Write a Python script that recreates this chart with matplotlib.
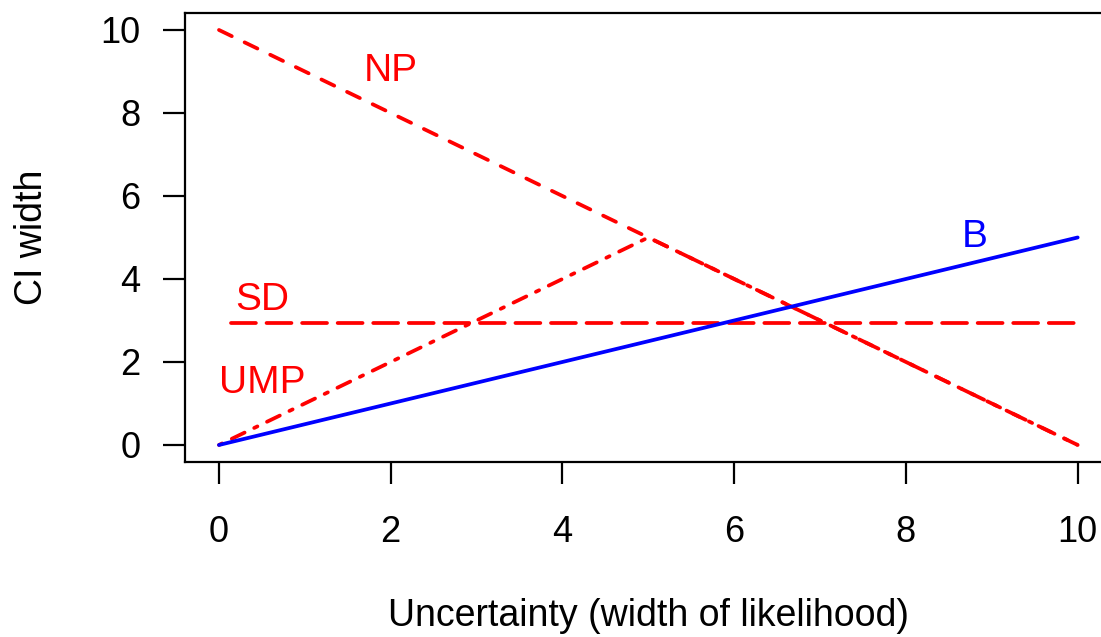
import matplotlib
matplotlib.use("Agg")
import matplotlib.pyplot as plt

plt.rcParams['font.family'] = ['Liberation Sans', 'DejaVu Sans']
plt.rcParams['lines.scale_dashes'] = False

# interval widths against likelihood width
unc = [0, 10]
np_width = [10, 0]
ump_x = [0, 5, 10]
ump_width = [0, 5, 0]
sd_x = [0.14, 10]
sd_width = [2.94, 2.94]
b_width = [0, 5]

xticks = [0, 2, 4, 6, 8, 10]
yticks = [0, 2, 4, 6, 8, 10]

labels = [("NP", 2.0, 9.0, 'red'), ("UMP", 0.5, 1.5, 'red'),
          ("SD", 0.5, 3.5, 'red'), ("B", 8.8, 5.0, 'blue')]

fig = plt.figure(figsize=(11.01, 6.37), dpi=100)
ax = fig.add_axes([0.1677, 0.2754, 0.8423, 0.7036])

u = 2.56  # R lty unit in points
lw = 2.7
ax.plot(unc, np_width, color='red', lw=lw, dashes=(4 * u, 4 * u),
        dash_capstyle='round', solid_capstyle='round')
ax.plot(ump_x, ump_width, color='red', lw=lw, dashes=(1 * u, 3 * u, 4 * u, 3 * u),
        dash_capstyle='round', solid_capstyle='round')
ax.plot(sd_x, sd_width, color='red', lw=lw, dashes=(7 * u, 3 * u),
        dash_capstyle='round', solid_capstyle='round')
ax.plot(unc, b_width, color='blue', lw=lw, solid_capstyle='round')

for txt, x, y, c in labels:
    ax.text(x, y, txt, color=c, fontsize=28, ha='center', va='center')

ax.set_xlim(-0.4, 10.4)
ax.set_ylim(-0.4, 10.4)
ax.set_xticks(xticks)
ax.set_yticks(yticks)
ax.tick_params(axis='both', direction='out', length=15.8, width=1.6,
               labelsize=26, color='black')
ax.tick_params(axis='x', pad=23)
ax.tick_params(axis='y', pad=16)
for s in ax.spines.values():
    s.set_linewidth(1.6)
ax.spines['right'].set_visible(False)

ax.set_xlabel("Uncertainty (width of likelihood)", fontsize=27, labelpad=34)
ax.set_ylabel("CI width", fontsize=27, labelpad=36)

fig.savefig("out.png", dpi=100)
